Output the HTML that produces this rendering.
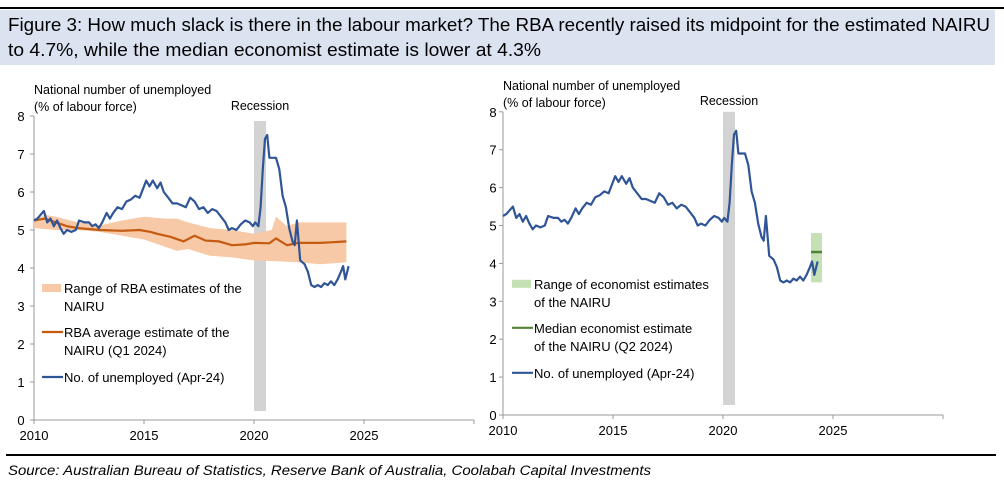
<!DOCTYPE html>
<html><head><meta charset="utf-8"><style>
body{margin:0;background:#fff;}
svg{display:block;font-family:"Liberation Sans",sans-serif;}
</style></head><body>
<svg id="s" width="1004" height="487" xmlns="http://www.w3.org/2000/svg">
<rect x="0" y="7" width="1004" height="2" fill="#000"/>
<rect x="0" y="10" width="995" height="55" fill="#dbe3f1"/>
<text x="8" y="31" font-size="18" textLength="982" lengthAdjust="spacingAndGlyphs">Figure 3: How much slack is there in the labour market? The RBA recently raised its midpoint for the estimated NAIRU</text>
<text x="8" y="56" font-size="18" textLength="533" lengthAdjust="spacingAndGlyphs">to 4.7%, while the median economist estimate is lower at 4.3%</text>
<rect x="6" y="454" width="990" height="2" fill="#000"/>
<text x="8" y="475" font-size="13.5" font-style="italic" textLength="643" lengthAdjust="spacingAndGlyphs">Source: Australian Bureau of Statistics, Reserve Bank of Australia, Coolabah Capital Investments</text>
<g id="L"></g><g id="R"></g>
</svg>
<script>
const U=[[2010,5.25],[2010.15,5.3],[2010.3,5.4],[2010.45,5.5],[2010.6,5.2],[2010.75,5.3],[2010.9,5.1],[2011.05,5.25],[2011.2,5.05],[2011.35,4.9],[2011.5,5.0],[2011.7,4.95],[2011.9,5.0],[2012.05,5.25],[2012.3,5.2],[2012.5,5.2],[2012.65,5.1],[2012.8,5.15],[2012.95,5.05],[2013.1,5.2],[2013.3,5.45],[2013.45,5.3],[2013.6,5.45],[2013.8,5.6],[2014.0,5.55],[2014.2,5.75],[2014.4,5.8],[2014.6,5.9],[2014.8,5.85],[2015.0,6.15],[2015.1,6.3],[2015.25,6.15],[2015.4,6.3],[2015.6,6.1],[2015.75,6.25],[2015.9,6.0],[2016.1,5.85],[2016.3,5.7],[2016.5,5.7],[2016.7,5.65],[2016.9,5.6],[2017.1,5.85],[2017.3,5.75],[2017.5,5.55],[2017.7,5.6],[2017.9,5.45],[2018.1,5.55],[2018.3,5.5],[2018.5,5.35],[2018.7,5.2],[2018.85,5.0],[2019.0,5.05],[2019.2,5.0],[2019.4,5.15],[2019.6,5.25],[2019.8,5.2],[2019.95,5.1],[2020.05,5.2],[2020.2,5.1],[2020.3,5.6],[2020.4,6.6],[2020.5,7.4],[2020.6,7.5],[2020.7,6.9],[2020.85,6.9],[2021.0,6.9],[2021.15,6.6],[2021.3,5.9],[2021.45,5.6],[2021.6,5.05],[2021.75,4.7],[2021.85,4.6],[2021.95,5.25],[2022.1,4.2],[2022.3,4.1],[2022.45,3.9],[2022.6,3.55],[2022.75,3.5],[2022.9,3.55],[2023.05,3.5],[2023.2,3.6],[2023.35,3.55],[2023.5,3.65],[2023.65,3.55],[2023.8,3.7],[2023.95,3.9],[2024.05,4.05],[2024.15,3.7],[2024.3,4.05]];
const A=[[2010,5.25],[2010.5,5.3],[2011,5.2],[2011.5,5.1],[2012,5.05],[2013,5.0],[2014,4.98],[2014.8,5.0],[2015.3,4.95],[2015.6,4.9],[2016.2,4.82],[2016.8,4.7],[2017.3,4.85],[2017.8,4.72],[2018.4,4.7],[2019.0,4.6],[2019.6,4.62],[2020.0,4.66],[2020.7,4.65],[2021.0,4.78],[2021.5,4.6],[2022.0,4.66],[2023.0,4.66],[2023.6,4.68],[2024.2,4.7]];
const HI=[[2010,5.25],[2010.5,5.4],[2011,5.35],[2012,5.2],[2013,5.12],[2014,5.25],[2015,5.35],[2016,5.3],[2016.5,5.3],[2017,5.2],[2018,5.05],[2019,5.0],[2020,4.9],[2020.8,5.0],[2021.0,5.35],[2021.5,5.1],[2022,5.2],[2023,5.2],[2024.2,5.2]];
const LO=[[2010,5.05],[2011,5.0],[2012,5.0],[2013,4.95],[2014,4.85],[2015,4.75],[2016,4.55],[2016.5,4.45],[2017,4.5],[2018,4.32],[2019,4.28],[2020,4.2],[2021,4.18],[2022,4.15],[2023,4.1],[2024.2,4.15]];
function chart(g,x0,y0,pxY,pxU,right){
 const X=t=>x0+(t-2010)*22,Y=v=>y0-v*pxU;
 let h='';
 h+=`<text x="${x0}" y="${y0-8*pxU-22}" font-size="12.5">National number of unemployed</text><text x="${x0}" y="${y0-8*pxU-5}" font-size="12.5">(% of labour force)</text>`;
 h+=`<rect x="${X(2020)}" y="${Y(8)+(right?0:5)}" width="12" height="${8*pxU-(right?10:14)}" fill="#d3d3d3"/>`;
 h+=`<text x="${X(2020)+6}" y="${Y(8)-(right?7:6)}" font-size="12.5" text-anchor="middle">Recession</text>`;
 h+=`<line x1="${x0}" y1="${Y(8)}" x2="${x0}" y2="${y0}" stroke="#999"/><line x1="${x0}" y1="${y0}" x2="${X(2030)}" y2="${y0}" stroke="#999"/>`;
 for(let v=0;v<=8;v++){h+=`<line x1="${x0-4}" x2="${x0}" y1="${Y(v)}" y2="${Y(v)}" stroke="#999"/><text x="${x0-(right?10:13)}" y="${Y(v)+5}" font-size="13" text-anchor="middle">${v}</text>`;}
 for(let t=2010;t<=2030;t+=5){h+=`<line x1="${X(t)}" x2="${X(t)}" y1="${y0}" y2="${y0+4}" stroke="#999"/>`;if(t<2030)h+=`<text x="${X(t)}" y="${y0+20}" font-size="13" text-anchor="middle">${t}</text>`;}
 const P=a=>a.map(p=>X(p[0]).toFixed(1)+','+Y(p[1]).toFixed(1)).join(' ');
 if(!right){
  h+=`<polygon points="${P(HI)} ${P(LO.slice().reverse())}" fill="#f8c9a6"/>`;
  h+=`<polyline points="${P(A)}" fill="none" stroke="#c55a11" stroke-width="2.2"/>`;
 }else{
  h+=`<rect x="${X(2024)}" y="${Y(4.8)}" width="11" height="${1.3*pxU}" fill="#c5e0b4"/>`;
  h+=`<line x1="${X(2024)}" x2="${X(2024)+11}" y1="${Y(4.3)}" y2="${Y(4.3)}" stroke="#548235" stroke-width="2.5"/>`;
 }
 h+=`<polyline points="${P(U)}" fill="none" stroke="#2f5597" stroke-width="2.2" stroke-linejoin="round"/>`;
 const lx=x0+(right?9:8),tx=lx+22;
 const ly=[Y(8)+172,Y(8)+216,Y(8)+261];
 const l1=right?["Range of economist estimates","of the NAIRU"]:["Range of RBA estimates of the","NAIRU"];
 const l2=right?["Median economist estimate","of the NAIRU (Q2 2024)"]:["RBA average estimate of the","NAIRU (Q1 2024)"];
 h+=`<rect x="${lx}" y="${ly[0]-4}" width="19" height="8" fill="${right?'#c5e0b4':'#f8c9a6'}"/>`;
 h+=`<line x1="${lx}" x2="${lx+21}" y1="${ly[1]}" y2="${ly[1]}" stroke="${right?'#548235':'#c55a11'}" stroke-width="2.2"/>`;
 h+=`<line x1="${lx}" x2="${lx+21}" y1="${ly[2]}" y2="${ly[2]}" stroke="#2f5597" stroke-width="2.2"/>`;
 [[l1,ly[0]],[l2,ly[1]]].forEach(([l,y])=>{h+=`<text x="${tx}" y="${y+5}" font-size="13">${l[0]}</text><text x="${tx}" y="${y+23}" font-size="13">${l[1]}</text>`;});
 h+=`<text x="${tx}" y="${ly[2]+5}" font-size="13">No. of unemployed (Apr-24)</text>`;
 document.getElementById(g).innerHTML=h;
}
chart('L',34,420,0,38,false);
chart('R',503,415,0,37.9,true);
</script>
</body></html>
